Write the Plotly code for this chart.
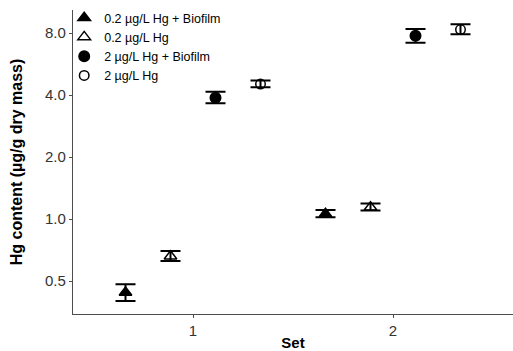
import plotly.graph_objects as go

# Hg content per set and treatment (µg/g dry mass)
sets = [1, 2]
groups = ["0.2 µg/L Hg + Biofilm", "0.2 µg/L Hg", "2 µg/L Hg + Biofilm", "2 µg/L Hg"]
means = {
    "0.2 µg/L Hg + Biofilm": [0.44, 1.06],
    "0.2 µg/L Hg": [0.66, 1.14],
    "2 µg/L Hg + Biofilm": [3.88, 7.76],
    "2 µg/L Hg": [4.52, 8.32],
}
err_plus = {
    "0.2 µg/L Hg + Biofilm": [0.042, 0.046],
    "0.2 µg/L Hg": [0.04, 0.05],
    "2 µg/L Hg + Biofilm": [0.27, 0.61],
    "2 µg/L Hg": [0.18, 0.50],
}
err_minus = {
    "0.2 µg/L Hg + Biofilm": [0.04, 0.04],
    "0.2 µg/L Hg": [0.035, 0.04],
    "2 µg/L Hg + Biofilm": [0.23, 0.58],
    "2 µg/L Hg": [0.16, 0.43],
}
y_ticks = [0.5, 1.0, 2.0, 4.0, 8.0]
y_tick_labels = ["0.5", "1.0", "2.0", "4.0", "8.0"]

symbols = {
    "0.2 µg/L Hg + Biofilm": ("triangle-up", 11),
    "0.2 µg/L Hg": ("triangle-up-open", 11),
    "2 µg/L Hg + Biofilm": ("circle", 10.5),
    "2 µg/L Hg": ("circle-open", 9.5),
}

dodge = 0.9
n = len(groups)

fig = go.Figure()
for i, g in enumerate(groups):
    offset = (i - (n - 1) / 2) * dodge / n
    sym, size = symbols[g]
    fig.add_trace(go.Scatter(
        x=[s + offset for s in sets],
        y=means[g],
        mode="markers",
        name=g,
        marker=dict(symbol=sym, size=size, color="black",
                    line=dict(color="black", width=1.5)),
        error_y=dict(type="data", symmetric=False,
                     array=err_plus[g], arrayminus=err_minus[g],
                     color="black", thickness=2, width=10),
    ))

fig.update_layout(
    width=513, height=351,
    margin=dict(l=73, r=0, t=10, b=37),
    paper_bgcolor="white", plot_bgcolor="white",
    font=dict(family="Liberation Sans, Arial, sans-serif", color="#333333"),
    showlegend=True,
    legend=dict(x=-0.02, y=1.023, xanchor="left", yanchor="top",
                bgcolor="rgba(0,0,0,0)", font=dict(size=12.5, color="black"),
                itemwidth=30, tracegroupgap=0),
    xaxis=dict(range=[0.4, 2.6], tickvals=sets, ticktext=[str(s) for s in sets],
               showgrid=False, zeroline=False,
               showline=True, linecolor="#4d4d4d", linewidth=1.2,
               ticks="outside", ticklen=3, tickcolor="#4d4d4d",
               tickfont=dict(size=15, color="#333333"),
               title=dict(text="<b>Set</b>", font=dict(size=15, color="black"), standoff=1)),
    yaxis=dict(type="log", range=[-0.461, 1.015],
               tickvals=y_ticks, ticktext=y_tick_labels,
               showgrid=False, zeroline=False,
               showline=True, linecolor="#4d4d4d", linewidth=1.2,
               ticks="outside", ticklen=3, tickcolor="#4d4d4d",
               tickfont=dict(size=15, color="#333333"),
               title=dict(text="<b>Hg content (µg/g dry mass)</b>",
                          font=dict(size=16, color="black"), standoff=18)),
)

fig.write_html("out.html")
